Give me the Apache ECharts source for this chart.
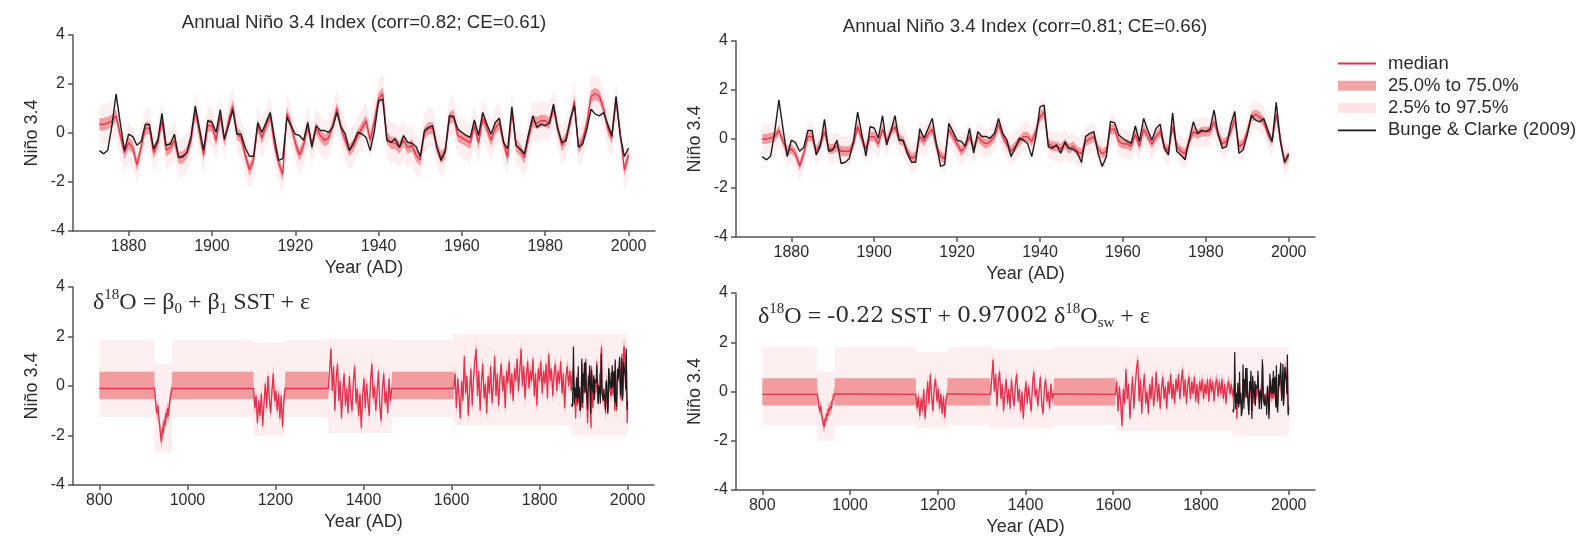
<!DOCTYPE html>
<html><head><meta charset="utf-8">
<script src="https://cdn.jsdelivr.net/npm/echarts@6/dist/echarts.min.js"></script>
<style>html,body{margin:0;padding:0;background:#fff}#c{width:1594px;height:539px}</style>
</head><body><div id="c"></div>
<script>
// ---------------- data ----------------
const topStartYear = 1873;
const bungeClarke = [
 -0.72,-0.85,-0.7,0.3,1.6,0.4,-0.72,-0.05,-0.15,-0.5,
 -0.35,0.35,0.35,-0.65,-0.3,0.8,-0.5,-0.45,-0.05,-1.0,
 -0.95,-0.8,-0.1,1.1,0.2,-0.7,0.5,0.45,0.03,0.95,
 -0.25,0.3,0.95,-0.05,-0.05,-0.6,-0.95,-0.95,0.42,0.03,
 0.43,0.84,-0.2,-1.12,-1.05,0.64,0.3,-0.05,-0.1,-0.3,
 0.43,-0.58,0.3,0.1,0.1,0.03,0.23,0.84,0.23,-0.04,
 -0.72,-0.38,0.03,-0.04,-0.18,-0.72,0.1,1.31,1.38,-0.31,
 -0.38,-0.24,-0.58,-0.11,-0.38,-0.42,-0.55,-0.96,0.1,0.23,
 0.3,-0.58,-1.12,-0.72,0.72,0.66,0.16,0.03,-0.1,-0.18,
 0.53,-0.1,0.84,0.36,-0.04,0.43,0.6,-0.38,-0.65,1.07,
 -0.51,-0.65,-0.85,-0.04,0.7,0.23,0.36,0.3,0.4,1.18,
 0.16,-0.38,-0.31,0.57,1.12,-0.58,-0.45,0.16,0.97,0.77,
 0.7,0.84,0.36,-0.11,1.5,-0.11,-0.96,-0.61];
const medianLeft = [
 0.35,0.35,0.4,0.5,0.7,-0.1,-0.8,-0.4,-0.6,-1.3,
 -0.6,0.2,0.2,-0.8,-0.4,0.5,-0.7,-0.6,-0.3,-1.0,
 -1.0,-0.8,-0.3,0.9,0.0,-0.9,0.3,0.3,-0.3,0.7,
 -0.3,0.5,1.1,0.0,-0.2,-0.9,-1.5,-1.1,0.3,-0.2,
 0.3,0.7,-0.5,-1.2,-1.7,0.8,0.3,-0.4,-0.9,-0.5,
 0.3,-0.5,0.2,-0.1,-0.3,-0.2,0.3,1.0,0.2,-0.3,
 -0.7,-0.5,-0.1,0.2,0.5,-0.3,0.5,1.4,1.6,-0.2,
 -0.4,-0.4,-0.6,-0.3,-0.6,-0.5,-0.9,-1.1,0.0,0.2,
 0.2,-0.6,-1.0,-0.8,0.6,0.7,-0.1,-0.2,-0.3,-0.4,
 0.3,-0.4,0.6,0.2,-0.3,0.2,0.4,-0.4,-1.0,0.9,
 -0.5,-0.7,-1.0,-0.2,0.5,0.4,0.5,0.5,0.4,1.0,
 0.2,-0.5,-0.2,0.4,1.3,-0.6,-0.3,0.4,1.5,1.6,
 1.5,1.0,0.2,-0.2,1.3,0.0,-1.5,-0.9];
const medianRight = [
 0.0,0.0,0.05,0.1,0.35,-0.1,-0.5,-0.4,-0.6,-1.1,
 -0.6,0.1,0.1,-0.5,-0.2,0.3,-0.4,-0.4,-0.3,-0.5,
 -0.5,-0.5,-0.2,0.5,0.0,-0.4,0.1,0.1,-0.2,0.4,
 -0.1,0.3,0.5,0.0,-0.1,-0.5,-0.8,-0.7,0.1,-0.1,
 0.2,0.4,-0.3,-0.7,-0.8,0.4,0.1,-0.2,-0.5,-0.3,
 0.1,-0.4,0.1,-0.1,-0.2,-0.1,0.1,0.6,0.1,-0.2,
 -0.5,-0.3,-0.1,0.1,0.1,-0.1,0.3,0.9,1.1,-0.2,
 -0.3,-0.3,-0.4,-0.2,-0.4,-0.3,-0.5,-0.6,-0.1,0.0,
 0.1,-0.4,-0.6,-0.5,0.4,0.4,-0.1,-0.2,-0.2,-0.3,
 0.2,-0.3,0.4,0.1,-0.2,0.1,0.3,-0.3,-0.5,0.5,
 -0.3,-0.5,-0.6,-0.1,0.3,0.2,0.3,0.3,0.3,0.7,
 0.2,-0.2,-0.1,0.3,0.8,-0.3,-0.2,0.3,0.9,1.0,
 0.9,0.7,0.2,-0.1,1.0,0.0,-0.9,-0.7];
const topIqrHalf = [0.25, 0.2];
const topCiHalf = [0.8, 0.6];

const topTicks = [1880,1900,1920,1940,1960,1980,2000];
const bottomTicks = [800,1000,1200,1400,1600,1800,2000];
const titles = ['Annual Niño 3.4 Index (corr=0.82; CE=0.61)','Annual Niño 3.4 Index (corr=0.81; CE=0.66)'];
const legendNames = ['median','25.0% to 75.0%','2.5% to 97.5%','Bunge & Clarke (2009)'];

// Bottom panels: flat (climatology) spans, dip and noisy stretches
const flatSpans = [[800,925],[965,1150],[1222,1320],[1465,1605]];
const dipStart = 925, dipStep = 2;
const noisy1Start = 1150, noisy2Start = 1320, noisy3Start = 1605, noisyStep = 3;

const blFlat = {median:-0.1, iqr:[-0.54,0.58], ci:[-1.25,1.85]};
const brFlat = {median:-0.12, iqr:[-0.57,0.54], ci:[-1.36,1.82]};
const blCi = {dip:[-2.7,0.9], n1:[-2.0,1.75], n2:[-1.9,1.9], n3:[-1.6,2.1], inst:[-2.0,2.1]};
const brCi = {dip:[-2.0,0.8], n1:[-1.5,1.6], n2:[-1.5,1.7], n3:[-1.6,1.8], inst:[-1.8,1.8]};
const bottomIqrHalf = [0.3, 0.25];

const blDip = [-0.1,-0.5,-0.9,-1.1,-0.8,-1.3,-1.6,-2.0,-2.25,-1.7,-1.9,-1.4,-1.6,-1.1,-1.3,-0.9,-1.2,-0.7,-0.5,-0.3,-0.1];
const brDip = [-0.1,-0.3,-0.6,-0.8,-0.6,-0.9,-1.1,-1.3,-1.45,-1.1,-1.2,-0.9,-1.0,-0.7,-0.8,-0.6,-0.7,-0.4,-0.3,-0.2,-0.1];
const blNoisy1 = [-0.1,-0.9,-0.4,-1.5,-0.6,-1.2,-0.3,-1.6,-0.7,0.1,-0.9,0.4,-0.5,-1.1,-0.2,0.5,-0.6,-0.2,-1.0,-0.3,-1.3,-0.4,-1.65,-0.6,-0.1];
const brNoisy1 = [-0.1,-0.7,-0.2,-1.0,-0.3,-0.8,0.1,-1.1,-0.4,0.4,-0.5,0.7,-0.2,-0.8,0.2,0.5,-0.4,0.1,-0.7,-0.1,-0.9,-0.2,-1.05,-0.3,-0.1];
const blNoisy2 = [
 -0.1,0.6,1.5,-0.2,0.8,-1.0,0.3,0.9,-0.6,0.2,
 -1.3,-0.2,0.5,-0.8,-0.1,-1.1,0.4,-0.5,-1.0,0.2,
 0.8,-0.7,-0.1,-1.2,-0.3,-1.7,-0.4,0.3,-0.9,0.1,
 -0.6,-1.2,0.2,0.9,-0.5,0.0,-1.0,-0.2,0.6,-0.8,
 -1.4,-0.1,0.5,-0.7,-0.2,-1.1,0.3,-0.6,-0.1];
const brNoisy2 = [
 -0.1,0.5,1.3,0.0,0.7,-0.6,0.4,0.8,-0.3,0.3,
 -0.8,0.0,0.5,-0.5,0.1,-0.7,0.5,-0.2,-0.6,0.3,
 0.7,-0.4,0.1,-0.8,0.0,-1.1,-0.2,0.4,-0.5,0.2,
 -0.3,-0.8,0.3,0.8,-0.2,0.1,-0.6,0.0,0.6,-0.5,
 -0.9,0.1,0.5,-0.4,0.0,-0.7,0.3,-0.3,-0.1];
const blNoisy3 = [
 -0.1,0.5,-0.9,0.3,-0.4,-1.3,0.2,-0.6,1.2,-0.3,
 0.4,-1.2,-0.2,0.7,-0.8,0.3,1.0,1.5,-0.4,0.6,
 -1.0,0.2,0.9,-0.5,0.1,-1.1,0.4,-0.3,0.8,-0.7,
 0.0,1.2,-0.4,0.5,-0.8,0.3,0.9,-0.2,0.4,-0.9,
 0.6,0.1,1.0,-0.3,0.5,-0.6,0.7,0.2,1.1,-0.2,
 0.6,1.5,0.0,0.8,-0.5,0.4,1.0,-0.1,0.6,0.2,
 1.1,-0.4,0.5,-0.8,0.7,0.2,1.0,-0.3,0.6,0.1,
 0.9,-0.5,1.3,0.2,0.7,-0.4,0.5,0.9,-0.2,0.6,
 0.1,1.0,-0.3,0.5,-0.9,0.4,0.8,0.0,0.6,-0.2];
const brNoisy3 = [
 -0.1,0.4,-0.8,0.2,-0.5,-1.4,0.1,-0.5,0.9,-0.3,
 0.3,-1.1,-0.2,0.6,-0.7,0.2,0.9,1.3,-0.4,0.5,
 -0.9,0.1,0.7,-0.5,0.0,-0.9,0.3,-0.3,0.6,-0.6,
 -0.1,0.8,-0.4,0.3,-0.7,0.1,0.6,-0.3,0.2,-0.7,
 0.4,-0.1,0.7,-0.3,0.3,-0.5,0.5,0.0,0.7,-0.3,
 0.4,0.9,-0.2,0.5,-0.5,0.3,0.6,-0.3,0.4,-0.1,
 0.6,-0.4,0.3,-0.5,0.4,0.0,0.5,-0.3,0.3,-0.1,
 0.5,-0.4,0.5,0.0,0.4,-0.4,0.3,0.5,-0.2,0.4,
 -0.1,0.5,-0.3,0.3,-0.5,0.2,0.4,-0.1,0.3,-0.2];

// ---------------- styling ----------------
const FONT = 'Liberation Sans, Arial, sans-serif';
const TXT = '#2b2b2b';
const AX = '#555';
const MED = '#e3324c';
const IQR = 'rgba(232,80,84,0.52)';
const CI = '#fdeef0';
const CI_LEG = '#fde3e6';
const OBS = '#1c1c1c';

// ---------------- builders ----------------
function buildTop(median, iqrH, ciH) {
  const med = [], iqr = [], ci = [], obs = [];
  median.forEach((v, i) => {
    const yr = topStartYear + i;
    med.push([yr, v]);
    iqr.push([yr, v - iqrH, v + iqrH]);
    ci.push([yr, v - ciH, v + ciH]);
    obs.push([yr, bungeClarke[i]]);
  });
  return {med, iqr, ci, obs};
}
function buildBottom(flat, dip, n1, n2, n3, inst, ciLim, iqrH) {
  const med = [], iqr = [], ci = [];
  const addFlat = span => span.forEach(x => {
    med.push([x, flat.median]); iqr.push([x, flat.iqr[0], flat.iqr[1]]); ci.push([x, flat.ci[0], flat.ci[1]]);
  });
  const addVar = (vals, start, step, lim) => vals.forEach((v, i) => {
    const x = start + i * step;
    med.push([x, v]); iqr.push([x, v - iqrH, v + iqrH]); ci.push([x, lim[0], lim[1]]);
  });
  addFlat(flatSpans[0]);
  addVar(dip, dipStart, dipStep, ciLim.dip);
  addFlat(flatSpans[1]);
  addVar(n1, noisy1Start, noisyStep, ciLim.n1);
  addFlat(flatSpans[2]);
  addVar(n2, noisy2Start, noisyStep, ciLim.n2);
  addFlat(flatSpans[3]);
  addVar(n3, noisy3Start, noisyStep, ciLim.n3);
  addVar(inst, topStartYear, 1, ciLim.inst);
  return {med, iqr, ci, obs: bungeClarke.map((v, i) => [topStartYear + i, v])};
}

function bandSeries(name, gi, band, color, z) {
  return {
    type: 'custom', name: name, xAxisIndex: gi, yAxisIndex: gi, z: z,
    silent: true, animation: false,
    itemStyle: {color: color},
    data: band, encode: {x: 0, y: [1, 2]},
    renderItem: function (params, api) {
      if (params.dataIndex !== 0) return null;
      const pts = [];
      for (let i = 0; i < band.length; i++) pts.push(api.coord([band[i][0], band[i][2]]));
      for (let i = band.length - 1; i >= 0; i--) pts.push(api.coord([band[i][0], band[i][1]]));
      return {type: 'polygon', shape: {points: pts}, style: {fill: color}};
    }
  };
}
function lineSeries(name, gi, data, color, width, z) {
  return {type: 'line', name: name, xAxisIndex: gi, yAxisIndex: gi, z: z, data: data,
    showSymbol: false, symbol: 'none', silent: true, animation: false,
    lineStyle: {color: color, width: width}, itemStyle: {color: color}};
}

const panels = [
  buildTop(medianLeft, topIqrHalf[0], topCiHalf[0]),
  buildTop(medianRight, topIqrHalf[1], topCiHalf[1]),
  buildBottom(blFlat, blDip, blNoisy1, blNoisy2, blNoisy3, medianLeft, blCi, bottomIqrHalf[0]),
  buildBottom(brFlat, brDip, brNoisy1, brNoisy2, brNoisy3, medianRight, brCi, bottomIqrHalf[1])
];

const grids = [
  {left: 73, top: 35, width: 582, height: 196},
  {left: 736, top: 41, width: 579, height: 196},
  {left: 73, top: 287, width: 581, height: 198},
  {left: 736, top: 293, width: 579, height: 197}
];

const series = [];
panels.forEach((p, gi) => {
  const bottom = gi >= 2;
  series.push(bandSeries(legendNames[2], gi, p.ci, CI, 1));
  series.push(bandSeries(legendNames[1], gi, p.iqr, IQR, 2));
  series.push(lineSeries(legendNames[0], gi, p.med, MED, 1.3, 3));
  series.push(lineSeries(legendNames[3], gi, p.obs, OBS, bottom ? 1.2 : 1.4, 4));
});

const plain = v => String(v);
const xAxes = grids.map((g, gi) => {
  const top = gi < 2;
  const ticks = top ? topTicks : bottomTicks;
  return {
    gridIndex: gi, type: 'value',
    min: top ? 1866.65 : 740, max: top ? 2006.35 : 2060,
    axisLine: {show: true, onZero: false, lineStyle: {color: AX, width: 1.5}},
    axisTick: {show: true, length: 5, customValues: ticks, lineStyle: {color: AX, width: 1.5}},
    axisLabel: {customValues: ticks, formatter: plain, margin: 8, fontSize: 16, color: TXT, fontFamily: FONT},
    splitLine: {show: false},
    name: 'Year (AD)', nameLocation: 'middle', nameGap: 28,
    nameTextStyle: {fontSize: 18, color: TXT, fontFamily: FONT}
  };
});
const yAxes = grids.map((g, gi) => ({
  gridIndex: gi, type: 'value', min: -4, max: 4, interval: 2,
  axisLine: {show: true, onZero: false, lineStyle: {color: AX, width: 1.5}},
  axisTick: {show: true, length: 5, lineStyle: {color: AX, width: 1.5}},
  axisLabel: {formatter: plain, margin: 8, fontSize: 16, color: TXT, fontFamily: FONT},
  splitLine: {show: false},
  name: 'Niño 3.4', nameLocation: 'middle', nameGap: 32,
  nameTextStyle: {fontSize: 18, color: TXT, fontFamily: FONT}
}));

const serif = 'Liberation Serif, DejaVu Serif, serif';
const eqRich = {
  n: {fontSize: 24, fontFamily: serif, fill: TXT, lineHeight: 29},
  d: {fontSize: 22, fontFamily: 'DejaVu Serif, Liberation Serif, serif', fill: TXT, lineHeight: 29},
  sup: {fontSize: 15, fontFamily: serif, fill: TXT, verticalAlign: 'top', lineHeight: 29},
  sub: {fontSize: 15, fontFamily: serif, fill: TXT, verticalAlign: 'bottom', lineHeight: 27}
};

const chart = echarts.init(document.getElementById('c'), null, {renderer: 'canvas'});
chart.setOption({
  backgroundColor: '#ffffff',
  animation: false,
  grid: grids,
  xAxis: xAxes,
  yAxis: yAxes,
  legend: {
    orient: 'vertical', left: 1333, top: 48, itemWidth: 38, itemHeight: 10, itemGap: 1.3,
    selectedMode: false,
    itemStyle: {borderWidth: 0},
    textStyle: {fontSize: 18.5, color: TXT, fontFamily: FONT, lineHeight: 21, padding: [0, 0, 0, 7]},
    data: [
      {name: legendNames[0], icon: 'path://M0,0L40,0L40,2L0,2Z', itemStyle: {color: MED, borderWidth: 0}},
      {name: legendNames[1], icon: 'rect', itemStyle: {color: IQR, borderWidth: 0}},
      {name: legendNames[2], icon: 'rect', itemStyle: {color: CI_LEG, borderWidth: 0}},
      {name: legendNames[3], icon: 'path://M0,0L40,0L40,2L0,2Z', itemStyle: {color: OBS, borderWidth: 0}}
    ]
  },
  graphic: [
    {type: 'text', x: 364, y: 23, silent: true, style: {text: titles[0], align: 'center', verticalAlign: 'middle', fontSize: 18.7, fontFamily: FONT, fill: TXT}},
    {type: 'text', x: 1025, y: 27, silent: true, style: {text: titles[1], align: 'center', verticalAlign: 'middle', fontSize: 18.7, fontFamily: FONT, fill: TXT}},
    {type: 'text', x: 93, y: 288, silent: true, style: {
      text: '{n|δ}{sup|18}{n|O = β}{sub|0}{n| + β}{sub|1}{n| SST + ε}', rich: eqRich}},
    {type: 'text', x: 758, y: 302, silent: true, style: {
      text: '{n|δ}{sup|18}{n|O = -}{d|0.22}{n| SST + }{d|0.97002}{n| δ}{sup|18}{n|O}{sub|sw}{n| + ε}', rich: eqRich}}
  ],
  series: series
});
</script>
</body></html>
